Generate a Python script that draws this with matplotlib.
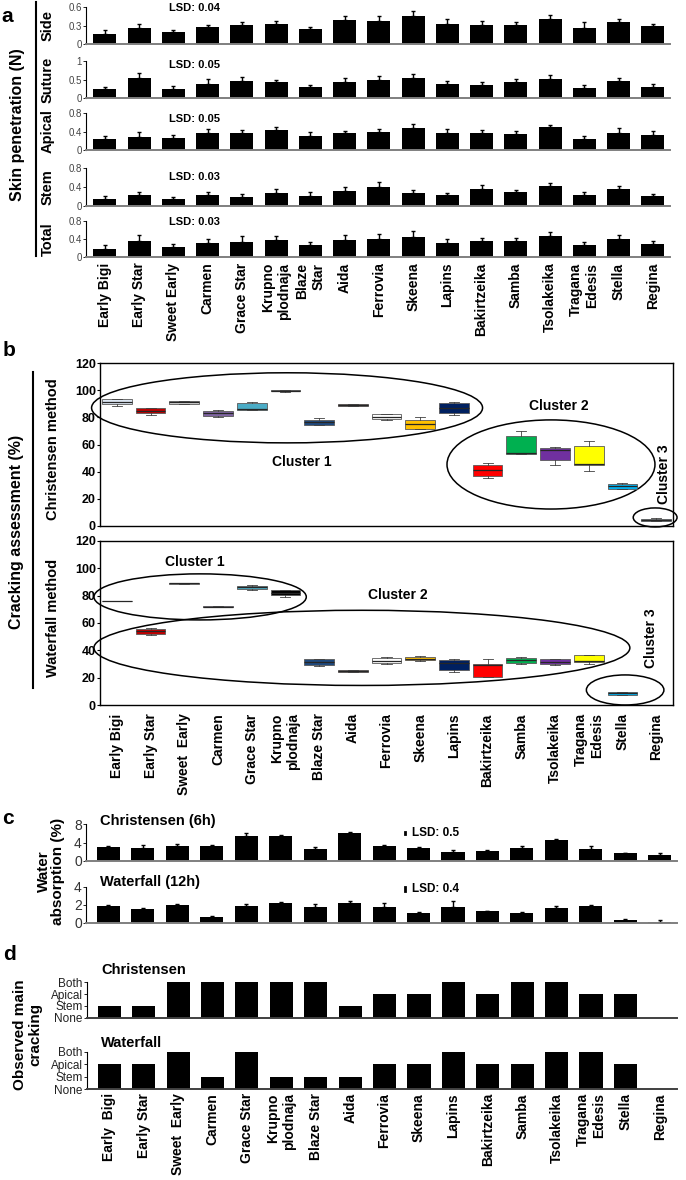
import numpy as np
import matplotlib
matplotlib.use("Agg")
import matplotlib.pyplot as plt
from matplotlib.patches import Ellipse
from matplotlib.lines import Line2D

plt.rcParams['font.family'] = ['Liberation Sans', 'DejaVu Sans']

W, H = 686, 1180

# cultivar names (each panel wraps them a little differently)
labels_a = ["Early Bigi", "Early Star", "Sweet Early", "Carmen", "Grace Star", "Krupno\nplodnaja",
            "Blaze\nStar", "Aida", "Ferrovia", "Skeena", "Lapins", "Bakirtzeika", "Samba",
            "Tsolakeika", "Tragana\nEdesis", "Stella", "Regina"]
labels_b = ["Early Bigi", "Early Star", "Sweet  Early", "Carmen", "Grace Star", "Krupno\nplodnaja",
            "Blaze Star", "Aida", "Ferrovia", "Skeena", "Lapins", "Bakirtzeika", "Samba",
            "Tsolakeika", "Tragana\nEdesis", "Stella", "Regina"]
labels_d = ["Early  Bigi", "Early Star", "Sweet  Early", "Carmen", "Grace Star", "Krupno\nplodnaja",
            "Blaze Star", "Aida", "Ferrovia", "Skeena", "Lapins", "Bakirtzeika", "Samba",
            "Tsolakeika", "Tragana\nEdesis", "Stella", "Regina"]

# panel a: skin penetration (N)
side = [0.17, 0.26, 0.19, 0.27, 0.31, 0.32, 0.25, 0.39, 0.37, 0.46, 0.33, 0.31, 0.31, 0.40, 0.26, 0.35, 0.29]
side_err = [0.05, 0.06, 0.04, 0.04, 0.05, 0.06, 0.03, 0.07, 0.08, 0.08, 0.07, 0.06, 0.04, 0.07, 0.09, 0.05, 0.04]
suture = [0.23, 0.545, 0.255, 0.39, 0.46, 0.42, 0.29, 0.42, 0.48, 0.53, 0.37, 0.345, 0.445, 0.51, 0.28, 0.46, 0.29]
suture_err = [0.07, 0.12, 0.08, 0.13, 0.12, 0.06, 0.05, 0.11, 0.11, 0.11, 0.08, 0.09, 0.07, 0.12, 0.06, 0.09, 0.08]
apical = [0.24, 0.29, 0.27, 0.37, 0.36, 0.44, 0.31, 0.36, 0.40, 0.47, 0.36, 0.37, 0.34, 0.49, 0.24, 0.36, 0.33]
apical_err = [0.06, 0.09, 0.05, 0.08, 0.08, 0.06, 0.07, 0.06, 0.06, 0.09, 0.09, 0.07, 0.07, 0.06, 0.07, 0.11, 0.08]
stem = [0.157, 0.24, 0.15, 0.235, 0.19, 0.27, 0.22, 0.32, 0.39, 0.28, 0.23, 0.35, 0.30, 0.42, 0.23, 0.35, 0.21]
stem_err = [0.05, 0.06, 0.04, 0.05, 0.07, 0.08, 0.07, 0.09, 0.12, 0.06, 0.035, 0.09, 0.04, 0.06, 0.055, 0.08, 0.05]
total = [0.185, 0.35, 0.215, 0.31, 0.34, 0.37, 0.27, 0.385, 0.41, 0.44, 0.31, 0.35, 0.35, 0.47, 0.26, 0.39, 0.28]
total_err = [0.075, 0.15, 0.075, 0.10, 0.13, 0.10, 0.06, 0.095, 0.11, 0.14, 0.10, 0.07, 0.08, 0.09, 0.08, 0.11, 0.08]

# panel b: cracking assessment (%) box summaries
box_colors = ["#dce6f2", "#c00000", "#d9d9d9", "#8064a2", "#4bacc6", "#000000", "#1f497d", "#632523",
              "#ffffff", "#ffc000", "#002060", "#ff0000", "#00b050", "#7030a0", "#ffff00", "#00b0f0", "#93cddd"]
chr_lo = [88.5, 82, 90, 80, 85.7, 98.5, 74, 88, 78.4, 71.7, 82, 35.6, 53.3, 45.2, 40.3, 27, 3.4]
chr_q1 = [90, 83, 90, 81, 85.7, 99.2, 74.7, 88, 79, 71.7, 83.3, 36.9, 53.3, 48.9, 45.2, 27.5, 3.4]
chr_med = [91, 85, 91, 83, 86.2, 99.5, 76.5, 89, 80.5, 75, 87, 41.5, 54, 55.8, 45.5, 29.5, 4.2]
chr_q3 = [93.5, 87, 91.7, 85, 90.9, 99.8, 78.4, 89.8, 82.3, 78.4, 90.2, 45.2, 66.1, 57.7, 59, 31.2, 4.9]
chr_hi = [93.5, 87, 92, 85.3, 91.6, 100, 79.6, 90, 82.3, 79.9, 91.6, 46.7, 70.3, 58.5, 62.4, 32, 5.6]
# Regina has no waterfall box
wf_lo = [76, 51, 88.8, 71.5, 84, 79.3, 28.5, 24.1, 29.8, 32.2, 24.4, 20.7, 29.8, 29, 29.8, 7.5, None]
wf_q1 = [76, 51.7, 88.8, 71.5, 84.6, 80.5, 29.5, 24.1, 30.5, 32.7, 25.4, 20.7, 31, 29.8, 31.5, 7.5, None]
wf_med = [76, 54, 89, 72, 86, 82, 31.5, 24.8, 32, 34, 31, 29.5, 32.7, 31.5, 32.2, 8.5, None]
wf_q3 = [76.3, 55.9, 89.2, 72.2, 87, 84.1, 33.4, 25.4, 34.1, 35.1, 32.7, 30.2, 34.6, 33.4, 36.3, 9.5, None]
wf_hi = [76.3, 56.3, 89.2, 72.2, 87.5, 84.1, 33.4, 25.4, 35.4, 35.6, 33.4, 33.4, 35.4, 33.4, 36.8, 9.5, None]

# panel c: water absorption (%)
water_chr = [3.05, 2.9, 3.2, 3.2, 5.5, 5.4, 2.6, 5.96, 3.2, 2.84, 2.04, 2.25, 2.84, 4.44, 2.55, 1.67, 1.38]
water_chr_err = [0.22, 0.66, 0.58, 0.2, 0.46, 0.2, 0.45, 0.29, 0.36, 0.21, 0.26, 0.15, 0.51, 0.21, 0.65, 0.15, 0.29]
water_wf = [1.85, 1.52, 2.04, 0.7, 1.93, 2.19, 1.81, 2.19, 1.81, 1.15, 1.78, 1.3, 1.15, 1.7, 1.85, 0.37, 0.15]
water_wf_err = [0.15, 0.15, 0.11, 0.08, 0.18, 0.11, 0.34, 0.25, 0.45, 0.07, 0.66, 0.07, 0.07, 0.15, 0.15, 0.07, 0.15]

# panel d: observed main cracking (0 None, 1 Stem, 2 Apical, 3 Both)
crack_levels = ["None", "Stem", "Apical", "Both"]
crack_chr = [1, 1, 3, 3, 3, 3, 3, 1, 2, 2, 3, 2, 3, 3, 2, 2, 0]
crack_wf = [2, 2, 3, 1, 3, 1, 1, 1, 2, 2, 3, 2, 2, 3, 3, 2, 0]

fig = plt.figure(figsize=(W / 100, H / 100), dpi=100)


def add_ax(x0, y0, x1, y1):
    return fig.add_axes([x0 / W, 1 - y1 / H, (x1 - x0) / W, (y1 - y0) / H])


def ftext(x, y, s, **kw):
    fig.text(x / W, 1 - y / H, s, **kw)


def vline(x, y0, y1):
    fig.add_artist(Line2D([x / W, x / W], [1 - y0 / H, 1 - y1 / H], color='black', lw=1.5))


def bar_axis(ax, vals, errs=None):
    x = np.arange(len(vals))
    if errs is not None:
        ax.bar(x, vals, 0.67, color='black', yerr=[np.zeros(len(vals)), errs], capsize=1.5,
               error_kw=dict(elinewidth=1, capthick=1, ecolor='black'))
    else:
        ax.bar(x, vals, 0.67, color='black')
    for s in ['top', 'right']:
        ax.spines[s].set_visible(False)
    ax.spines['bottom'].set_color('#7f7f7f')
    ax.spines['bottom'].set_linewidth(1.4)
    ax.spines['left'].set_linewidth(0.8)
    ax.tick_params(axis='x', length=0)
    ax.tick_params(axis='y', length=2, width=0.6, pad=1)
    ax.set_xticks([])


# ---------- panel a ----------
rows_a = [("Side", side, side_err, 0.6, ["0", "0.3", "0.6"], "LSD: 0.04", 7, 44, 8),
          ("Suture", suture, suture_err, 1.0, ["0", "0.5", "1"], "LSD: 0.05", 61, 98, 65),
          ("Apical", apical, apical_err, 0.8, ["0", "0.4", "0.8"], "LSD: 0.05", 113, 150, 119),
          ("Stem", stem, stem_err, 0.8, ["0", "0.4", "0.8"], "LSD: 0.03", 168, 206, 177),
          ("Total", total, total_err, 0.8, ["0", "0.4", "0.8"], "LSD: 0.03", 221, 257, 222)]
for name, vals, errs, ymax, tl, lsd, y0, y1, ly in rows_a:
    ax = add_ax(86, y0, 670, y1)
    bar_axis(ax, vals, errs)
    ax.set_xlim(-0.55, 16.5)
    ax.set_ylim(0, ymax)
    ax.set_yticks([0, ymax / 2, ymax], tl, fontsize=7, color='#444444')
    ftext(169, ly, lsd, fontsize=8, fontweight='bold', va='center')
    ftext(48, (y0 + y1) / 2, name, rotation=90, fontsize=10.5, fontweight='bold', ha='center', va='center')
    if name == "Total":
        ax.set_xticks(np.arange(17), labels_a, rotation=90, fontsize=10, fontweight='bold',
                      multialignment='right', va='top')
        ax.tick_params(axis='x', pad=4)

ftext(7, 17, "a", fontsize=15, fontweight='bold', ha='center', va='center')
ftext(18, 125, "Skin penetration (N)", rotation=90, fontsize=11.5, fontweight='bold', ha='center', va='center')
vline(36, 2, 256)


# ---------- panel b ----------
def box_axis(ax, lo, q1, med, q3, hi):
    stats, pos, cols = [], [], []
    for i in range(len(lo)):
        if lo[i] is None:
            continue
        stats.append(dict(whislo=lo[i], q1=q1[i], med=med[i], q3=q3[i], whishi=hi[i]))
        pos.append(i)
        cols.append(box_colors[i])
    bp = ax.bxp(stats, positions=pos, widths=0.88, patch_artist=True, showfliers=False, capwidths=0.3,
                boxprops=dict(edgecolor='#595959', linewidth=0.6),
                medianprops=dict(color='#262626', linewidth=0.9),
                whiskerprops=dict(color='#404040', linewidth=0.6),
                capprops=dict(color='#404040', linewidth=0.6))
    for patch, c in zip(bp['boxes'], cols):
        patch.set_facecolor(c)
    ax.set_xlim(-0.5, 16.5)
    ax.set_ylim(0, 120)
    ax.set_yticks(np.arange(0, 121, 20))
    for lab in ax.get_yticklabels():
        lab.set_fontweight('bold')
        lab.set_fontsize(9)
    ax.tick_params(axis='y', length=2, pad=1)
    ax.tick_params(axis='x', length=0)
    ax.set_xticks([])
    for s in ax.spines.values():
        s.set_linewidth(1.0)


def ell(ax, xc, yc, w, h):
    ax.add_patch(Ellipse((xc, yc), w, h, fill=False, ec='black', lw=1.1, clip_on=False))


ax_bc = add_ax(100, 363, 673, 526)
box_axis(ax_bc, chr_lo, chr_q1, chr_med, chr_q3, chr_hi)
ell(ax_bc, 5.05, 87, 11.6, 51.6)
ell(ax_bc, 12.88, 45.3, 6.17, 65.6)
ell(ax_bc, 15.97, 6.3, 1.3, 14)
ax_bc.text(5.5, 47, "Cluster 1", fontsize=10, fontweight='bold', ha='center', va='center')
ax_bc.text(13.1, 88, "Cluster 2", fontsize=10, fontweight='bold', ha='center', va='center')
ax_bc.text(16.22, 38, "Cluster 3", fontsize=10, fontweight='bold', ha='center', va='center', rotation=90)

ax_bw = add_ax(100, 541, 673, 705)
box_axis(ax_bw, wf_lo, wf_q1, wf_med, wf_q3, wf_hi)
ell(ax_bw, 2.47, 79.1, 6.3, 33.7)
ell(ax_bw, 7.27, 41.8, 15.9, 55)
ell(ax_bw, 15.08, 11, 2.3, 22)
ax_bw.text(2.32, 104.8, "Cluster 1", fontsize=10, fontweight='bold', ha='center', va='center')
ax_bw.text(8.34, 80.6, "Cluster 2", fontsize=10, fontweight='bold', ha='center', va='center')
ax_bw.text(15.85, 49, "Cluster 3", fontsize=10, fontweight='bold', ha='center', va='center', rotation=90)
ax_bw.set_xticks(np.arange(17), labels_b, rotation=90, fontsize=10, fontweight='bold',
                 multialignment='right', va='top')
ax_bw.tick_params(axis='x', pad=6)

ftext(9, 350, "b", fontsize=15, fontweight='bold', ha='center', va='center')
ftext(17, 532, "Cracking assessment (%)", rotation=90, fontsize=11.5, fontweight='bold', ha='center', va='center')
ftext(53, 449, "Christensen method", rotation=90, fontsize=10.5, fontweight='bold', ha='center', va='center')
ftext(53, 618, "Waterfall method", rotation=90, fontsize=10.5, fontweight='bold', ha='center', va='center')
vline(33, 372, 688)

# ---------- panel c ----------
ax_cc = add_ax(86, 824, 677, 861)
bar_axis(ax_cc, water_chr, water_chr_err)
ax_cc.set_xlim(-0.65, 16.5)
ax_cc.set_ylim(0, 8)
ax_cc.set_yticks([0, 4, 8], ["0", "4", "8"], fontsize=10, color='#333333')
ax_cc.plot([8.6, 8.6], [5.8, 6.3], color='black', lw=2, clip_on=False)
ax_cc.text(8.8, 6.05, "LSD: 0.5", fontsize=8.5, fontweight='bold', va='center')

ax_cw = add_ax(86, 887, 677, 923)
bar_axis(ax_cw, water_wf, water_wf_err)
ax_cw.set_xlim(-0.65, 16.5)
ax_cw.set_ylim(0, 4)
ax_cw.set_yticks([0, 2, 4], ["0", "2", "4"], fontsize=10, color='#333333')
ax_cw.plot([8.6, 8.6], [3.6, 4.0], color='black', lw=2, clip_on=False)
ax_cw.text(8.8, 3.78, "LSD: 0.4", fontsize=8.5, fontweight='bold', va='center')

ftext(100, 821, "Christensen (6h)", fontsize=10.5, fontweight='bold', va='center')
ftext(100, 882, "Waterfall (12h)", fontsize=10.5, fontweight='bold', va='center')
ftext(8, 818, "c", fontsize=15, fontweight='bold', ha='center', va='center')
ftext(51, 871, "Water\nabsorption (%)", rotation=90, fontsize=11, fontweight='bold', ha='center',
      va='center', multialignment='center', linespacing=1.0)

# ---------- panel d ----------
for vals, y0, y1, title, ty in [(crack_chr, 982, 1018, "Christensen", 970),
                                (crack_wf, 1052, 1089, "Waterfall", 1043)]:
    ax = add_ax(87, y0, 677, y1)
    bar_axis(ax, vals)
    ax.set_xlim(-0.65, 16.5)
    ax.set_ylim(0, 3)
    ax.set_yticks([0, 1, 2, 3], crack_levels, fontsize=8.5, color='#222222')
    ax.spines['bottom'].set_color('#404040')
    ftext(101, ty, title, fontsize=10.5, fontweight='bold', va='center')
    if title == "Waterfall":
        ax.set_xticks(np.arange(17), labels_d, rotation=90, fontsize=10, fontweight='bold',
                      multialignment='right', va='top')
        ax.tick_params(axis='x', pad=3)

ftext(9, 955, "d", fontsize=15, fontweight='bold', ha='center', va='center')
ftext(28, 1035, "Observed main\ncracking", rotation=90, fontsize=11, fontweight='bold', ha='center',
      va='center', multialignment='center', linespacing=1.1)

fig.savefig("out.png", dpi=100)
